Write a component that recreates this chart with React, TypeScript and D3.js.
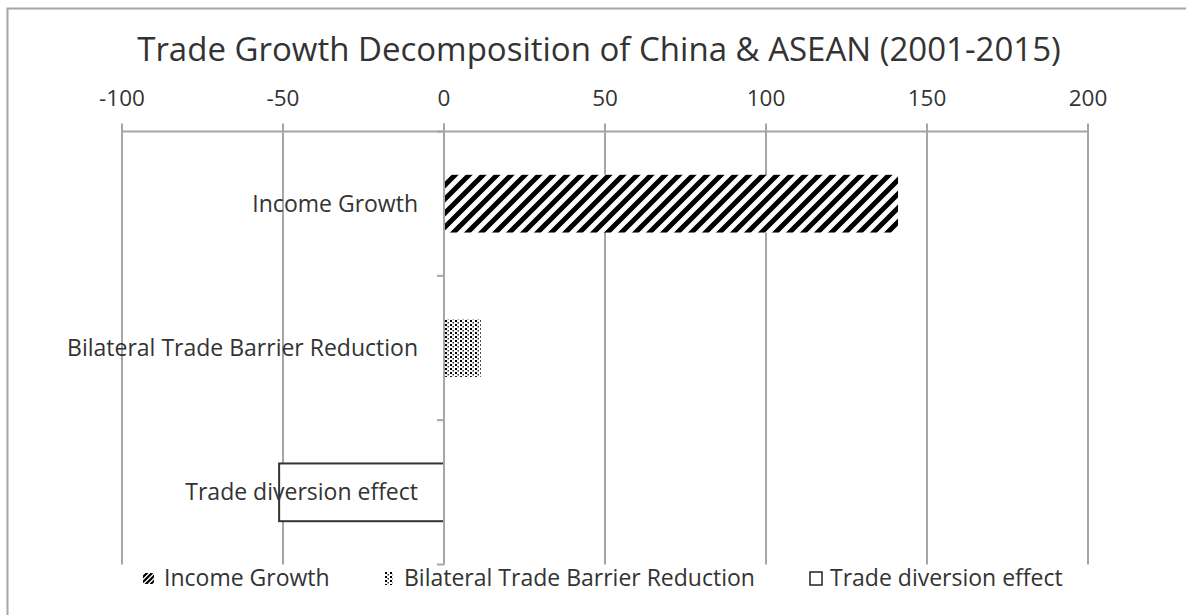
import React from "react";
import * as d3 from "d3";

const categories = ["Income Growth", "Bilateral Trade Barrier Reduction", "Trade diversion effect"];
const values = [141, 11.4, -51.2];
const tickValues = [-100, -50, 0, 50, 100, 150, 200];
const title = "Trade Growth Decomposition of China & ASEAN (2001-2015)";
const fills = ["url(#stripes)", "url(#dots)", "#ffffff"];

const W = 1186;
const H = 615;
const FONT = "'Open Sans', 'Liberation Sans', sans-serif";
const TEXT = "#333333";
const GRID = "#a6a6a6";

export default function App() {
  const plotTop = 131.5;
  const plotBottom = 564.5;
  const x = d3.scaleLinear().domain([-100, 200]).range([122, 1088]);
  const y = d3.scaleBand<string>().domain(categories).range([plotTop, plotBottom]).paddingInner(0.6).paddingOuter(0.3);
  const yb = d3.scaleBand<string>().domain(categories).range([plotTop, plotBottom]);
  const x0 = x(0);

  const legendItems = [
    { label: categories[0], sx: 143, tx: 164, kind: 0 },
    { label: categories[1], sx: 384, tx: 404, kind: 1 },
    { label: categories[2], sx: 810, tx: 830, kind: 2 },
  ];

  return (
    <svg width={W} height={H} style={{ position: "absolute", left: 0, top: 0, background: "#fff" }}>
      <defs>
        <pattern id="stripes" patternUnits="userSpaceOnUse" width="14" height="14">
          <rect width="14" height="14" fill="#fff" />
          <path d="M-3.5,3.5 L3.5,-3.5 M0,14 L14,0 M10.5,17.5 L17.5,10.5" stroke="#000" strokeWidth="5" />
        </pattern>
        <pattern id="dots" patternUnits="userSpaceOnUse" width="5" height="4">
          <rect width="5" height="4" fill="#fff" />
          <rect x="0" y="0" width="2" height="2" fill="#000" />
          <rect x="2.5" y="2" width="1.5" height="1.5" fill="#333" />
        </pattern>
        <pattern id="stripesS" patternUnits="userSpaceOnUse" width="5" height="5">
          <rect width="5" height="5" fill="#fff" />
          <path d="M-1,1 L1,-1 M0,5 L5,0 M4,6 L6,4" stroke="#000" strokeWidth="2.2" />
        </pattern>
      </defs>
      <rect x={7.5} y={8.5} width={1200} height={640} fill="#fff" stroke={GRID} strokeWidth={2} />

      <text x={599} y={61} textAnchor="middle" fontFamily={FONT} fontSize={33} fill={TEXT}>
        {title}
      </text>

      {/* gridlines */}
      {tickValues.map((t) => (
        <line key={"g" + t} x1={x(t)} x2={x(t)} y1={plotTop - 8} y2={plotBottom} stroke={GRID} strokeWidth={2} />
      ))}
      <line x1={x(-100)} x2={x(200)} y1={plotTop} y2={plotTop} stroke={GRID} strokeWidth={2} />
      {tickValues.map((t) => (
        <text key={"t" + t} x={x(t)} y={106} textAnchor="middle" fontFamily={FONT} fontSize={22.5} fill={TEXT}>
          {t}
        </text>
      ))}

      {/* bars */}
      {categories.map((c, i) => {
        const v = values[i];
        const xl = Math.min(x(0), x(v));
        const w = Math.abs(x(v) - x(0));
        return (
          <rect
            key={c}
            x={xl}
            y={y(c)!}
            width={w}
            height={y.bandwidth()}
            fill={fills[i]}
            stroke={i === 2 ? "#333" : "none"}
            strokeWidth={i === 2 ? 2 : 0}
          />
        );
      })}

      {/* category axis at zero */}
      <line x1={x0} x2={x0} y1={plotTop - 8} y2={plotBottom} stroke={GRID} strokeWidth={2} />
      {[plotTop, ...categories.map((c) => yb(c)! + yb.bandwidth())].map((yy, i) => (
        <line key={"ct" + i} x1={x0 - 7} x2={x0} y1={yy} y2={yy} stroke={GRID} strokeWidth={2} />
      ))}
      {categories.map((c) => (
        <text
          key={"l" + c}
          x={418}
          y={yb(c)! + yb.bandwidth() / 2 + 8}
          textAnchor="end"
          fontFamily={FONT}
          fontSize={23}
          fill={TEXT}
        >
          {c}
        </text>
      ))}

      {/* legend */}
      {legendItems.map((it) => (
        <g key={"lg" + it.label}>
          {it.kind === 0 && <rect x={it.sx} y={573} width={11} height={11} fill="url(#stripesS)" rx={2} />}
          {it.kind === 1 && <rect x={it.sx} y={572} width={9} height={13} fill="url(#dots)" />}
          {it.kind === 2 && <rect x={it.sx} y={572} width={12} height={13} fill="#fff" stroke="#222" strokeWidth={1.5} />}
          <text x={it.tx} y={586} fontFamily={FONT} fontSize={23} fill={TEXT}>
            {it.label}
          </text>
        </g>
      ))}
    </svg>
  );
}
